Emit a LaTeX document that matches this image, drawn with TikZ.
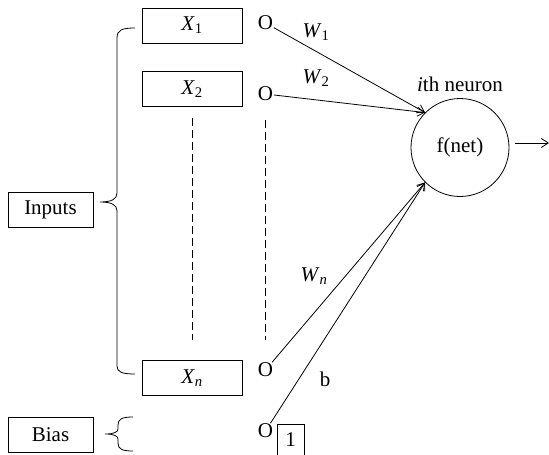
\documentclass[tikz,border=0pt]{standalone}
\usepackage{fontspec}
\setmainfont{Liberation Serif}
\newfontfamily\serifx{Liberation Serif}
\usetikzlibrary{arrows.meta}
\begin{document}
\begin{tikzpicture}[x=1pt,y=-1pt,
  every node/.style={font=\serifx\fontsize{21}{25}\selectfont},
  box/.style={draw,line width=0.8pt,minimum width=100pt,minimum height=35pt,inner sep=0pt},
  lbox/.style={draw,line width=0.8pt,minimum width=85pt,minimum height=35pt,inner sep=0pt},
  onode/.style={inner sep=0.5pt},
  wire/.style={line width=0.8pt},
  arr/.style={line width=0.8pt,-{Straight Barb[length=7pt,width=9pt]}},
  dsh/.style={line width=0.8pt,dash pattern=on 8pt off 4pt}]
\useasboundingbox (0,0) rectangle (549,455);
% input boxes
\node[box] (x1) at (192,25.5) {\textit{X}\textsubscript{1}};
\node[box] (x2) at (192,89) {\textit{X}\textsubscript{2}};
\node[box] (xn) at (192,378) {\textit{X}\textsubscript{\textit{n}}};
\node[lbox] (inputs) at (50.5,209.5) {Inputs};
\node[lbox] (bias) at (50.5,434.5) {Bias};
% O nodes
\node[onode] (o1) at (265.5,23) {O};
\node[onode] (o2) at (265.5,94) {O};
\node[onode] (on) at (265.5,370) {O};
\node[onode] (ob) at (265.5,431) {O};
\node[draw,line width=0.8pt,minimum width=27pt,minimum height=31pt,inner sep=0pt] (one) at (290.5,440) {1};
% neuron
\node[draw,circle,line width=0.8pt,minimum size=98pt,inner sep=0pt] (neu) at (460,147.5) {f(net)};
\node (lab) at (460,84) {\textit{i}th neuron};
\coordinate (out) at (549,143);
% weights
\node (w1) at (316,32) {\textit{W}\textsubscript{1}};
\node (w2) at (316,78) {\textit{W}\textsubscript{2}};
\node (wn) at (314,276) {\textit{W}\textsubscript{\textit{n}}};
\node (b) at (325,379) {b};
% connectors
\draw[arr] (o1) -- (neu.135);
\draw[arr] (o2) -- (neu.135);
\draw[arr] (on) -- (neu.225);
\draw[arr] (ob) -- (neu.225);
\draw[arr] (neu.east |- out) ++(6,0) -- (out);
% dashed
\draw[dsh] ([yshift=-11pt]x2.south) -- ([yshift=20pt]xn.north);
\draw[dsh] (o2.south |- 0,120) -- (o2.south |- 0,340);
% braces
\draw[wire] (135,28) .. controls (122,28) and (117,30) .. (117,38) -- (117,193)
  .. controls (117,199) and (112,202) .. (100,202)
  .. controls (112,202) and (117,205) .. (117,211) -- (117,366)
  .. controls (117,372) and (122,374) .. (135,374);
\draw[wire] (133,417) .. controls (122,417) and (118,419) .. (118,425) -- (118,429)
  .. controls (118,432) and (114,434) .. (105,434)
  .. controls (114,434) and (118,436) .. (118,439) -- (118,443)
  .. controls (118,449) and (122,451) .. (133,451);
\end{tikzpicture}
\end{document}
